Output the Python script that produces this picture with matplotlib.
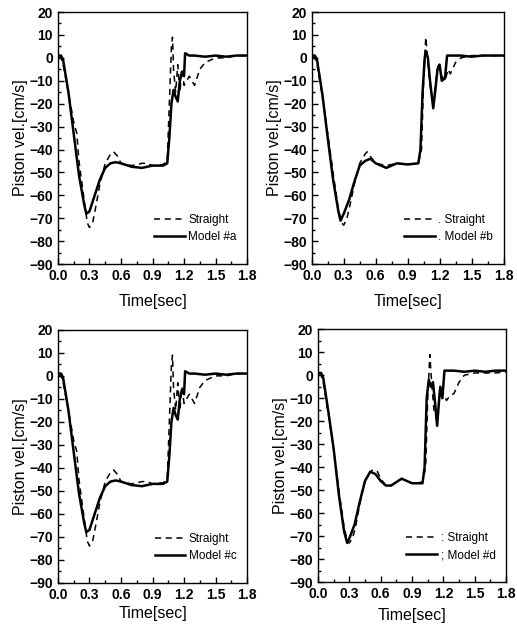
import matplotlib
matplotlib.use("Agg")
import matplotlib.pyplot as plt
from matplotlib.ticker import MultipleLocator

plt.rcParams['font.family'] = ['Liberation Sans', 'DejaVu Sans']

# straight pipe response (dashed), per panel
t_straight_a = [0.0, 0.03, 0.05, 0.1, 0.15, 0.18, 0.2, 0.25, 0.28, 0.3, 0.33, 0.36, 0.4, 0.45, 0.5, 0.53, 0.57,
                0.6, 0.7, 0.8, 0.85, 0.9, 1.0, 1.04, 1.06, 1.08, 1.09, 1.1, 1.12, 1.14, 1.16, 1.18, 1.2, 1.25,
                1.3, 1.35, 1.4, 1.5, 1.6, 1.7, 1.8]
v_straight_a = [0, 0, -3, -15, -28, -33, -45, -62, -72, -74, -72, -65, -55, -46, -42, -41, -43,
                -46, -47, -46, -46, -47, -46.5, -45, -20, 5, 9, -5, -15, -3, -15, -5, -12, -8,
                -12, -5, -2, 0, 0, 1, 1]

t_model_a = [0.0, 0.03, 0.05, 0.1, 0.15, 0.2, 0.25, 0.27, 0.3, 0.35, 0.4, 0.45, 0.5, 0.55, 0.6, 0.7, 0.8, 0.9,
             1.0, 1.04, 1.06, 1.08, 1.1, 1.12, 1.14, 1.16, 1.18, 1.2, 1.21, 1.25, 1.3, 1.4, 1.5, 1.6, 1.7, 1.8]
v_model_a = [1, 1, -1, -15, -33, -51, -64, -68, -67, -60, -53, -48, -46, -45.5, -46, -47.5, -48, -47,
             -47, -46, -35, -20, -14, -17, -19, -10, -6, -8, 2, 1, 1, 0.5, 1, 0.5, 1, 1]

t_straight_b = [0.0, 0.03, 0.05, 0.1, 0.15, 0.2, 0.25, 0.28, 0.3, 0.33, 0.36, 0.4, 0.45, 0.5, 0.52, 0.55,
                0.6, 0.7, 0.8, 0.9, 1.0, 1.03, 1.05, 1.07, 1.09, 1.11, 1.14, 1.17, 1.19, 1.22, 1.25, 1.28,
                1.3, 1.35, 1.4, 1.5, 1.6, 1.7, 1.8]
v_straight_b = [0, 0, -3, -17, -33, -50, -66, -72, -73, -70, -64, -55, -46, -42, -41, -43,
                -46, -47, -46, -46.5, -46, -40, -10, 9, -2, -12, -20, -8, -2, -8, -10, -5,
                -7, -2, 0, 1, 1, 1, 1]

t_model_b = [0.0, 0.03, 0.05, 0.1, 0.15, 0.2, 0.25, 0.27, 0.3, 0.35, 0.4, 0.45, 0.5, 0.55, 0.6, 0.65, 0.7,
             0.8, 0.9, 1.0, 1.02, 1.04, 1.06, 1.07, 1.09, 1.11, 1.14, 1.16, 1.18, 1.2, 1.22, 1.25, 1.27,
             1.3, 1.4, 1.5, 1.6, 1.7, 1.8]
v_model_b = [1, 1, -1, -16, -35, -53, -67, -71, -68, -62, -54, -47, -45, -44, -46, -47, -48,
             -46, -46.5, -46, -40, -15, 0, 3, 0, -10, -22, -14, -5, -3, -10, -9, 1,
             1, 1, 0.5, 1, 1, 1]

t_straight_c = t_straight_a
v_straight_c = [0, 0, -3, -15, -28, -33, -45, -62, -72, -74, -72, -65, -55, -46, -42, -41, -43,
                -46, -47, -46, -46, -47, -46.5, -45, -20, 5, 9, -5, -15, -3, -15, -5, -12, -8,
                -12, -5, -2, 0, 0, 1, 1]

t_model_c = t_model_a
v_model_c = [1, 1, -1, -15, -33, -51, -64, -68, -67, -60, -53, -48, -46, -45.5, -46, -47.5, -48, -47,
             -47, -46, -35, -20, -14, -17, -19, -10, -6, -8, 2, 1, 1, 0.5, 1, 0.5, 1, 1]

t_straight_d = [0.0, 0.03, 0.05, 0.1, 0.15, 0.2, 0.25, 0.28, 0.3, 0.33, 0.36, 0.4, 0.45, 0.5, 0.53, 0.57,
                0.6, 0.65, 0.7, 0.8, 0.9, 1.0, 1.03, 1.05, 1.07, 1.09, 1.11, 1.14, 1.17, 1.2, 1.23, 1.26,
                1.3, 1.35, 1.4, 1.5, 1.6, 1.7, 1.8]
v_straight_d = [0, 0, -3, -17, -32, -50, -66, -72, -73, -71, -66, -56, -46, -42, -41, -42,
                -45, -48, -48, -45, -47, -46.5, -40, -10, 9, -5, -15, -20, -5, -8, -11, -9,
                -8, -3, 0, 1, 1, 1, 1.5]

t_model_d = [0.0, 0.03, 0.05, 0.1, 0.15, 0.2, 0.25, 0.28, 0.3, 0.35, 0.4, 0.45, 0.5, 0.55, 0.6, 0.65, 0.7,
             0.8, 0.9, 1.0, 1.02, 1.04, 1.06, 1.08, 1.1, 1.12, 1.14, 1.16, 1.17, 1.19, 1.21, 1.25,
             1.3, 1.4, 1.5, 1.6, 1.7, 1.8]
v_model_d = [1, 1, -1, -16, -32, -52, -68, -73, -71, -65, -55, -46, -42, -43, -46, -48, -48,
             -45, -47, -47, -40, -10, -2, -5, -3, -12, -22, -10, -5, -10, 2, 2,
             2, 1.5, 2, 1.5, 2, 2]

panels = [
    ("Straight", "Model #a", t_straight_a, v_straight_a, t_model_a, v_model_a),
    (". Straight", ". Model #b", t_straight_b, v_straight_b, t_model_b, v_model_b),
    ("Straight", "Model #c", t_straight_c, v_straight_c, t_model_c, v_model_c),
    (": Straight", "; Model #d", t_straight_d, v_straight_d, t_model_d, v_model_d),
]

# axes rectangles in figure fraction
boxes = [
    [0.112, 0.582, 0.366, 0.399],
    [0.603, 0.582, 0.371, 0.399],
    [0.112, 0.078, 0.366, 0.400],
    [0.615, 0.079, 0.364, 0.400],
]
xpads = [8, 8, 3, 5]

fig = plt.figure(figsize=(5.17, 6.32), dpi=100)

for box, pad, (lab_s, lab_m, ts, vs, tm, vm) in zip(boxes, xpads, panels):
    ax = fig.add_axes(box)
    ax.plot(ts, vs, color='black', linestyle=(0, (4, 3)), linewidth=1.1, label=lab_s)
    ax.plot(tm, vm, color='black', linewidth=1.8, label=lab_m)
    ax.set_xlim(0, 1.8)
    ax.set_ylim(-90, 20)
    ax.xaxis.set_major_locator(MultipleLocator(0.3))
    ax.xaxis.set_minor_locator(MultipleLocator(0.15))
    ax.yaxis.set_major_locator(MultipleLocator(10))
    ax.yaxis.set_minor_locator(MultipleLocator(5))
    ax.xaxis.set_major_formatter(plt.FuncFormatter(lambda x, p: "%.1f" % x))
    ax.tick_params(direction='in', which='both', labelsize=10, width=1.0)
    ax.tick_params(which='major', length=4)
    ax.tick_params(which='minor', length=2)
    for lbl in ax.get_xticklabels() + ax.get_yticklabels():
        lbl.set_fontweight('bold')
    for s in ax.spines.values():
        s.set_linewidth(1.0)
    ax.set_xlabel("Time[sec]", fontsize=11.5, labelpad=pad)
    ax.set_ylabel("Piston vel.[cm/s]", fontsize=11.5, labelpad=1)
    ax.legend(loc='lower right', bbox_to_anchor=(1.0, 0.04), frameon=False, fontsize=8.5,
              handlelength=2.6, handletextpad=0.3, labelspacing=0.45)

fig.savefig("out.png", dpi=100)
